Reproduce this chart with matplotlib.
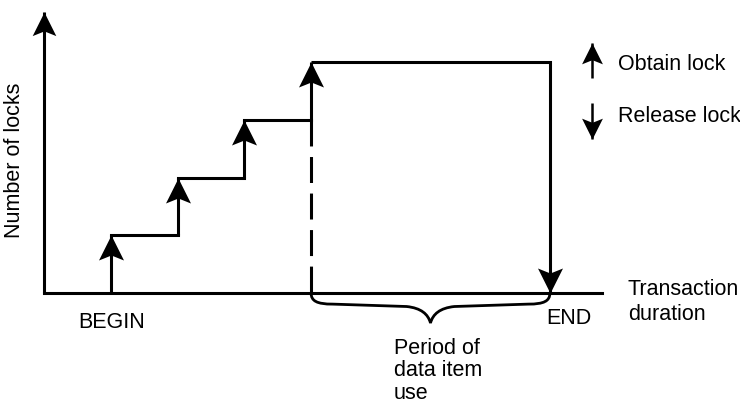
import matplotlib
matplotlib.use("Agg")
import matplotlib.pyplot as plt
from matplotlib.path import Path
from matplotlib.patches import PathPatch

plt.rcParams["font.family"] = ["Liberation Sans", "DejaVu Sans"]
plt.rcParams["lines.scale_dashes"] = False

# data: lock acquisitions (time step -> number of locks held)
lock_times = [0, 1, 2, 3]
lock_counts = [1, 2, 3, 4]
release_time = 6.58
# axis extents in the same units
axis_start = -1.0
axis_end = 7.36
axis_top = 4.87

W, H = 740, 404
fig = plt.figure(figsize=(W / 100, H / 100), dpi=100)
ax = fig.add_axes([0, 0, 1, 1])
# one time step ~ 66.7 px, one lock ~ 57.75 px, origin at (111, 293) px
ax.set_xlim(-111 / 66.7, (W - 111) / 66.7)
ax.set_ylim((293 - H) / 57.75, 293 / 57.75)
ax.axis("off")


def px(x, y):
    # pixel position -> figure fraction
    return x / W, 1 - y / H


# arrow heads as custom markers, tip sits at the marker position
codes = [Path.MOVETO, Path.LINETO, Path.LINETO, Path.LINETO, Path.CLOSEPOLY]
up_head = Path([(0, 0), (0.5, -1), (0, -0.8), (-0.5, -1), (0, 0)], codes)
down_head = Path([(0, 0), (0.5, 1), (0, 0.8), (-0.5, 1), (0, 0)], codes)

LW = 2.2
HEAD = 36


def arrow(x0, y0, x1, y1, lw=LW, ms=HEAD, tr=None):
    tr = tr or ax.transData
    ax.plot([x0, x1], [y0, y1], color="k", lw=lw, solid_capstyle="butt", transform=tr)
    head = up_head if y1 > y0 else down_head
    ax.plot(x1, y1, marker=head, ms=ms, color="k", mew=0, transform=tr)


# axes
arrow(axis_start, 0, axis_start, axis_top, ms=34)
ax.plot([axis_start, axis_end], [0, 0], color="k", lw=LW, solid_capstyle="projecting")

# staircase of lock acquisitions
for i, (t, n) in enumerate(zip(lock_times, lock_counts)):
    prev = lock_counts[i - 1] if i > 0 else 0
    arrow(t, prev, t, n)
    if i < len(lock_times) - 1:
        ax.plot([t, lock_times[i + 1]], [n, n], color="k", lw=LW, solid_capstyle="projecting")
    else:
        # dashed continuation down to the axis
        ax.plot([t, t], [prev, 0], color="k", lw=LW, dashes=(18.7, 7.6), dash_capstyle="butt")
        # hold all locks, then release at END
        ax.plot([t, release_time, release_time], [n, n, 0], color="k", lw=LW,
                solid_joinstyle="miter", solid_capstyle="butt")
        ax.plot(release_time, 0, marker=down_head, ms=HEAD, color="k", mew=0)

# curly brace under the period of data item use
x0, x1, y, d = lock_times[-1], release_time, 0.0, 0.52
h = (x1 - x0) / 2
xm = x0 + h
left = [(x0, y), (x0, y - 0.27 * d), (x0 + 0.05 * h, y - 0.37 * d), (x0 + 0.18 * h, y - 0.37 * d),
        (xm - 0.2 * h, y - 0.45 * d),
        (xm - 0.08 * h, y - 0.5 * d), (xm - 0.02 * h, y - 0.7 * d), (xm, y - d)]
right = [(2 * xm - bx, by) for bx, by in left[::-1]][1:]
verts = left + right
bcodes = ([Path.MOVETO] + [Path.CURVE4] * 3 + [Path.LINETO] + [Path.CURVE4] * 3
          + [Path.CURVE4] * 3 + [Path.LINETO] + [Path.CURVE4] * 3)
ax.add_patch(PathPatch(Path(verts, bcodes), fill=False, lw=2.0, color="k", capstyle="butt"))

# legend arrows
arrow(*px(592, 78), *px(592, 43), lw=1.8, ms=30, tr=fig.transFigure)
arrow(*px(592, 103), *px(592, 139), lw=1.8, ms=30, tr=fig.transFigure)

fs = 15.5
tf = fig.transFigure
ax.text(*px(15, 160), "Number of locks", rotation=90, ha="center", va="center", fontsize=fs, transform=tf)
ax.text(*px(112, 322), "BEGIN", ha="center", va="center", fontsize=fs, transform=tf)
ax.text(*px(569, 318), "END", ha="center", va="center", fontsize=fs, transform=tf)
ax.text(*px(628, 302), "Transaction\nduration", ha="left", va="center", fontsize=fs,
        linespacing=1.2, transform=tf)
ax.text(*px(618, 65), "Obtain lock", ha="left", va="center", fontsize=fs, transform=tf)
ax.text(*px(618, 117), "Release lock", ha="left", va="center", fontsize=fs, transform=tf)
ax.text(*px(394, 338), "Period of\ndata item\nuse", ha="left", va="top", fontsize=fs,
        linespacing=1.08, transform=tf)

fig.savefig("out.png", dpi=100)
